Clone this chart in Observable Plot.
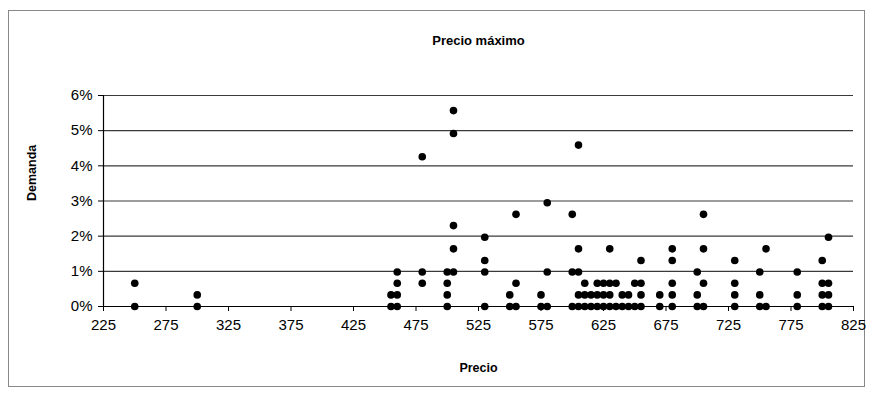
<!DOCTYPE html>
<html>
<head>
<meta charset="utf-8">
<script src="https://cdn.jsdelivr.net/npm/d3@7"></script>
<script src="https://cdn.jsdelivr.net/npm/@observablehq/plot@0.6"></script>
<style>
  body { margin: 0; background: #fff; }
  svg { display: block; }
</style>
</head>
<body>
<div id="chart"></div>
<script>
// Precio máximo: share of respondents (Demanda) naming each maximum price (Precio)
const titulo = "Precio máximo";
const etiquetaX = "Precio";
const etiquetaY = "Demanda";

// price columns and the demand values (%) found at each price
const precios = [250, 300, 455, 460, 480, 500, 505, 530, 550, 555, 575, 580,
                 600, 605, 610, 615, 620, 625, 630, 635, 640, 645, 650, 655,
                 670, 680, 700, 705, 730, 750, 755, 780, 800, 805];
const demandas = [
  [0.66, 0],                        // 250
  [0.33, 0],                        // 300
  [0.33, 0],                        // 455
  [0.98, 0.66, 0.33, 0],            // 460
  [4.26, 0.98, 0.66],               // 480
  [0.98, 0.66, 0.33, 0],            // 500
  [5.57, 4.92, 2.30, 1.64, 0.98],   // 505
  [1.97, 1.31, 0.98, 0],            // 530
  [0.33, 0],                        // 550
  [2.62, 0.66, 0],                  // 555
  [0.33, 0],                        // 575
  [2.95, 0.98, 0],                  // 580
  [2.62, 0.98, 0],                  // 600
  [4.59, 1.64, 0.98, 0.33, 0],      // 605
  [0.66, 0.33, 0],                  // 610
  [0.33, 0],                        // 615
  [0.66, 0.33, 0],                  // 620
  [0.66, 0.33, 0],                  // 625
  [1.64, 0.66, 0.33, 0],            // 630
  [0.66, 0],                        // 635
  [0.33, 0],                        // 640
  [0.33, 0],                        // 645
  [0.66, 0],                        // 650
  [1.31, 0.66, 0.33, 0],            // 655
  [0.33, 0],                        // 670
  [1.64, 1.31, 0.66, 0.33, 0],      // 680
  [0.98, 0.33, 0],                  // 700
  [2.62, 1.64, 0.66, 0],            // 705
  [1.31, 0.66, 0.33, 0],            // 730
  [0.98, 0.33, 0],                  // 750
  [1.64, 0],                        // 755
  [0.98, 0.33, 0],                  // 780
  [1.31, 0.66, 0.33, 0],            // 800
  [1.97, 0.66, 0.33, 0]             // 805
];

const xTicks = [225, 275, 325, 375, 425, 475, 525, 575, 625, 675, 725, 775, 825];
const yTicks = [0, 1, 2, 3, 4, 5, 6];

const puntos = precios.flatMap((p, i) =>
  demandas[i].map(d => ({precio: p, demanda: d / 100})));

const fmtPct = d3.format(".0%");

const chart = Plot.plot({
  width: 872,
  height: 400,
  marginLeft: 103,
  marginRight: 19,
  marginTop: 95,
  marginBottom: 94,
  style: {fontFamily: "'Liberation Sans', Arial, sans-serif", background: "#fff", color: "#000"},
  x: {domain: [225, 825]},
  y: {domain: [0, 0.06]},
  marks: [
    Plot.gridY(yTicks.slice(1).map(v => v / 100), {stroke: "#3a3a3a", strokeOpacity: 1, strokeWidth: 1.1}),
    Plot.ruleY([0], {stroke: "#000", strokeWidth: 1.2}),
    Plot.ruleX([225], {stroke: "#000", strokeWidth: 1.2}),
    Plot.axisY(yTicks.map(v => v / 100), {
      tickFormat: fmtPct, tickSize: 5, tickPadding: 6, fontSize: 15, label: null
    }),
    Plot.axisX(xTicks, {tickSize: 5, tickPadding: 8, fontSize: 15, label: null}),
    Plot.dot(puntos, {x: "precio", y: "demanda", r: 3.8, fill: "#000", stroke: null}),
    Plot.text([titulo], {text: d => d, frameAnchor: "top", lineAnchor: "middle", dy: -55,
      fontWeight: "bold", fontSize: 13}),
    Plot.text([etiquetaX], {text: d => d, frameAnchor: "bottom", lineAnchor: "middle", dy: 61,
      fontWeight: "bold", fontSize: 12.5}),
    Plot.text([etiquetaY], {text: d => d, frameAnchor: "left", lineAnchor: "middle", dx: -72,
      rotate: -90, fontWeight: "bold", fontSize: 12.5})
  ]
});

// outer chart border
d3.select(chart).insert("rect", ":first-child")
  .attr("x", 8.5).attr("y", 10.5).attr("width", 856).attr("height", 376)
  .attr("fill", "none").attr("stroke", "#888").attr("stroke-width", 1);

document.getElementById("chart").append(chart);
</script>
</body>
</html>
